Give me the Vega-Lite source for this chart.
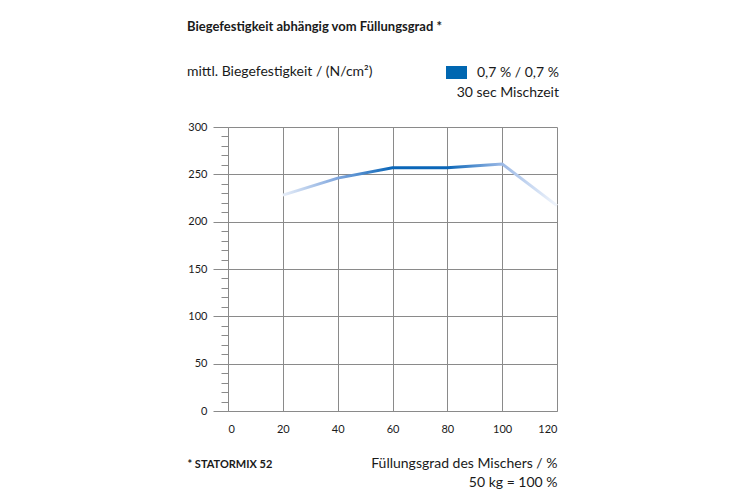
{
  "$schema": "https://vega.github.io/schema/vega-lite/v6.json",
  "width": 329,
  "height": 284,
  "autosize": "none",
  "padding": {"left": 228, "top": 127, "right": 193, "bottom": 89},
  "background": "white",
  "config": {
    "font": "Lato",
    "view": {"stroke": null}
  },
  "title": {
    "text": "Biegefestigkeit abhängig vom Füllungsgrad *",
    "subtitle": "mittl. Biegefestigkeit / (N/cm²)",
    "anchor": "start",
    "frame": "group",
    "dx": -41,
    "fontSize": 13,
    "fontWeight": "bold",
    "color": "#1a1a1a",
    "subtitleFontSize": 14,
    "subtitleColor": "#1a1a1a",
    "subtitlePadding": 31,
    "offset": -17
  },
  "data": {
    "values": [
      {"grad": 20, "festigkeit": 228, "serie": "0,7 % / 0,7 %"},
      {"grad": 40, "festigkeit": 246, "serie": "0,7 % / 0,7 %"},
      {"grad": 60, "festigkeit": 257, "serie": "0,7 % / 0,7 %"},
      {"grad": 80, "festigkeit": 257, "serie": "0,7 % / 0,7 %"},
      {"grad": 100, "festigkeit": 261, "serie": "0,7 % / 0,7 %"},
      {"grad": 120, "festigkeit": 217, "serie": "0,7 % / 0,7 %"}
    ]
  },
  "encoding": {
    "x": {
      "field": "grad",
      "type": "quantitative",
      "scale": {"domain": [0, 120], "nice": false},
      "axis": {
        "values": [0, 20, 40, 60, 80, 100, 120],
        "grid": true,
        "gridColor": "#8a8a8a",
        "gridWidth": 1,
        "domain": true,
        "domainColor": "#8a8a8a",
        "ticks": false,
        "labelFontSize": 11,
        "labelColor": "#1a1a1a",
        "labelPadding": 12,
        "title": ["Füllungsgrad des Mischers / %", "50 kg = 100 %"],
        "titleFontSize": 14,
        "titleFontWeight": "normal",
        "titleColor": "#1a1a1a",
        "titleAlign": "right",
        "titleAnchor": "end",
        "titleBaseline": "alphabetic",
        "titleX": 329,
        "titleY": 56,
        "titleLineHeight": 19
      }
    },
    "y": {
      "field": "festigkeit",
      "type": "quantitative",
      "scale": {"domain": [0, 300], "nice": false},
      "axis": {
        "values": [0, 10, 20, 30, 40, 50, 60, 70, 80, 90, 100, 110, 120, 130, 140, 150, 160, 170, 180, 190, 200, 210, 220, 230, 240, 250, 260, 270, 280, 290, 300],
        "grid": true,
        "gridColor": "#8a8a8a",
        "gridOpacity": {"condition": {"test": "datum.value % 50 === 0", "value": 1}, "value": 0},
        "domain": true,
        "domainColor": "#8a8a8a",
        "tickColor": "#8a8a8a",
        "tickSize": {"condition": {"test": "datum.value % 50 === 0", "value": 15}, "value": 7},
        "labelExpr": "datum.value % 50 === 0 ? datum.label : ''",
        "labelFontSize": 11,
        "labelColor": "#1a1a1a",
        "labelPadding": 6,
        "title": "* STATORMIX 52",
        "titleAngle": 0,
        "titleAlign": "left",
        "titleBaseline": "alphabetic",
        "titleFontSize": 11,
        "titleFontWeight": "bold",
        "titleColor": "#1a1a1a",
        "titleX": -41,
        "titleY": 340
      }
    }
  },
  "layer": [
    {
      "mark": {
        "type": "line",
        "strokeWidth": 3,
        "stroke": {
          "gradient": "linear",
          "x1": 0, "y1": 0, "x2": 1, "y2": 0,
          "stops": [
            {"offset": 0, "color": "#e6edf8"},
            {"offset": 0.2, "color": "#7fa6dd"},
            {"offset": 0.4, "color": "#0a66b8"},
            {"offset": 0.6, "color": "#0a66b8"},
            {"offset": 0.8, "color": "#9cb9e6"},
            {"offset": 1, "color": "#f2f6fc"}
          ]
        }
      }
    },
    {
      "mark": {"type": "point", "filled": true, "opacity": 0},
      "encoding": {
        "color": {
          "field": "serie",
          "type": "nominal",
          "scale": {"range": ["#0067b1"]},
          "legend": {
            "orient": "none",
            "legendX": 218,
            "legendY": -65,
            "title": "30 sec Mischzeit",
            "titleOrient": "bottom",
            "titleAnchor": "end",
            "titleFontSize": 14,
            "titleFontWeight": "normal",
            "titleColor": "#1a1a1a",
            "titlePadding": 6,
            "labelFontSize": 14,
            "labelColor": "#1a1a1a",
            "labelOffset": 10,
            "symbolType": "M-1,-0.62H1V0.62H-1Z",
            "symbolSize": 441,
            "symbolOpacity": 1,
            "symbolStrokeWidth": 0,
            "symbolFillColor": "#0067b1"
          }
        }
      }
    }
  ]
}
